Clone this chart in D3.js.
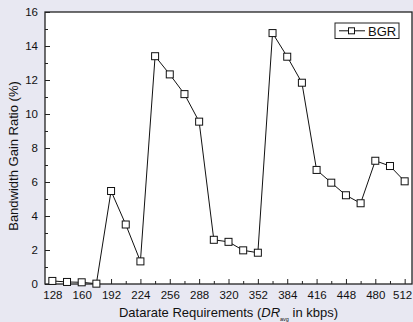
<!DOCTYPE html>
<html>
<head>
<meta charset="utf-8">
<script src="https://cdn.jsdelivr.net/npm/d3@7"></script>
<style>
  body { margin: 0; background: #e8e8f2; }
  svg { display: block; }
  text { font-family: "Liberation Sans", Arial, sans-serif; fill: #111; }
</style>
</head>
<body>
<div id="chart"></div>
<script>
// data
let datarates = [128, 144, 160, 176, 192, 208, 224, 240, 256, 272, 288, 304, 320,
                 336, 352, 368, 384, 400, 416, 432, 448, 464, 480, 496, 512];
let bgr = [0.18, 0.12, 0.1, 0.02, 5.47, 3.5, 1.33, 13.4, 12.33, 11.17, 9.55, 2.6, 2.48,
           1.98, 1.84, 14.76, 13.37, 11.84, 6.71, 5.96, 5.22, 4.75, 7.25, 6.94, 6.04];
let xTicks = [128, 160, 192, 224, 256, 288, 320, 352, 384, 416, 448, 480, 512];
let yTicks = [0, 2, 4, 6, 8, 10, 12, 14, 16];

let svgWidth = 413;
let svgHeight = 322;
let margin = {top: 12, right: 1, bottom: 38, left: 45};
let chartWidth = svgWidth - margin.left - margin.right;
let chartHeight = svgHeight - margin.top - margin.bottom;

let svg = d3.select("#chart")
    .append("svg")
    .attr("width", svgWidth)
    .attr("height", svgHeight);

svg.append("rect")
    .attr("width", svgWidth)
    .attr("height", svgHeight)
    .attr("fill", "#e8e8f2");

let chartGroup = svg.append("g")
    .attr("transform", `translate(${margin.left}, ${margin.top})`);

let x = d3.scaleLinear().domain([120, 520]).range([0, chartWidth]);
let y = d3.scaleLinear().domain([0, 16]).range([chartHeight, 0]);

// plot background
chartGroup.append("rect")
    .attr("width", chartWidth)
    .attr("height", chartHeight)
    .attr("fill", "#fff");

// minor ticks
chartGroup.append("g")
    .attr("transform", `translate(0, ${chartHeight})`)
    .call(d3.axisBottom(x).tickValues(d3.range(144, 520, 32)).tickSize(-3).tickFormat(""))
    .call(g => g.select(".domain").remove());
chartGroup.append("g")
    .call(d3.axisLeft(y).tickValues(d3.range(1, 16, 2)).tickSize(-3).tickFormat(""))
    .call(g => g.select(".domain").remove());

// major ticks
let xAxis = chartGroup.append("g")
    .attr("transform", `translate(0, ${chartHeight})`)
    .call(d3.axisBottom(x).tickValues(xTicks).tickSize(-5).tickPadding(7));
xAxis.select(".domain").remove();
// last label sits right at the window edge, nudge it in
xAxis.selectAll(".tick text").filter(d => d === 512).attr("dx", -2.5);

let yAxis = chartGroup.append("g")
    .call(d3.axisLeft(y).tickValues(yTicks).tickSize(-5).tickPadding(7));
yAxis.select(".domain").remove();

chartGroup.selectAll(".tick line").attr("stroke", "#222").attr("stroke-width", 1);
chartGroup.selectAll(".tick text")
    .attr("font-size", 11.5)
    .attr("font-family", "Liberation Sans, Arial, sans-serif")
    .attr("fill", "#111");

// frame
chartGroup.append("rect")
    .attr("width", chartWidth)
    .attr("height", chartHeight)
    .attr("fill", "none")
    .attr("stroke", "#222")
    .attr("stroke-width", 1.3);

// line + markers
let line = d3.line()
    .x((d, i) => x(datarates[i]))
    .y(d => y(d));

chartGroup.append("path")
    .datum(bgr)
    .attr("d", line)
    .attr("fill", "none")
    .attr("stroke", "#111")
    .attr("stroke-width", 1);

chartGroup.selectAll(".marker")
    .data(bgr)
    .enter()
    .append("rect")
    .attr("class", "marker")
    .attr("x", (d, i) => x(datarates[i]) - 3.5)
    .attr("y", d => y(d) - 3.5)
    .attr("width", 7)
    .attr("height", 7)
    .attr("fill", "#fff")
    .attr("stroke", "#111")
    .attr("stroke-width", 1);

// legend
let legend = svg.append("g").attr("transform", "translate(335, 23)");
legend.append("rect")
    .attr("width", 64)
    .attr("height", 15.5)
    .attr("fill", "#fff")
    .attr("stroke", "#222")
    .attr("stroke-width", 1);
legend.append("line")
    .attr("x1", 4).attr("x2", 30)
    .attr("y1", 7.8).attr("y2", 7.8)
    .attr("stroke", "#111");
legend.append("rect")
    .attr("x", 13.5).attr("y", 4.8)
    .attr("width", 6).attr("height", 6)
    .attr("fill", "#fff")
    .attr("stroke", "#111");
legend.append("text")
    .attr("x", 33)
    .attr("y", 12.5)
    .attr("font-size", 13)
    .text("BGR");

// axis titles
svg.append("text")
    .attr("transform", "translate(18, 156) rotate(-90)")
    .attr("text-anchor", "middle")
    .attr("font-size", 13)
    .text("Bandwidth Gain Ratio (%)");

let xTitle = svg.append("text")
    .attr("x", margin.left + chartWidth / 2)
    .attr("y", 317)
    .attr("text-anchor", "middle")
    .attr("font-size", 13);
xTitle.append("tspan").text("Datarate Requirements (");
xTitle.append("tspan").attr("font-style", "italic").text("DR");
xTitle.append("tspan").attr("font-size", 5.5).attr("dy", 3.5).text("avg");
xTitle.append("tspan").attr("dy", -3.5).text(" in kbps)");
</script>
</body>
</html>
